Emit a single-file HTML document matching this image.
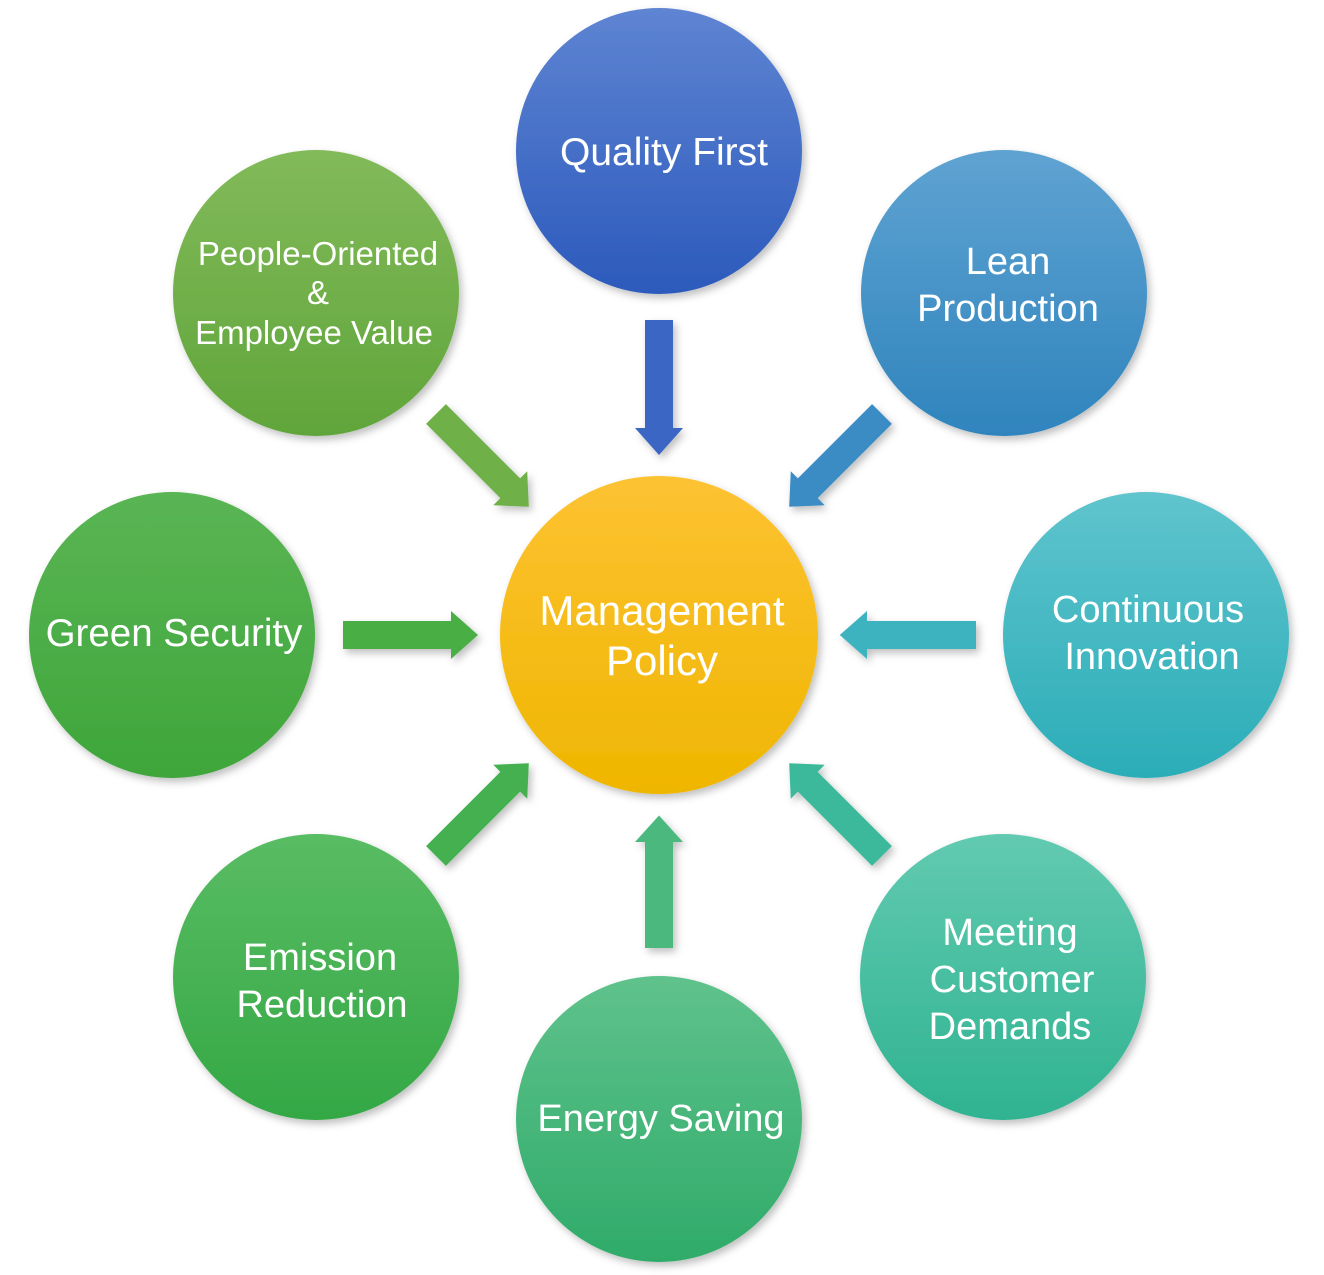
<!DOCTYPE html>
<html><head><meta charset="utf-8"><style>
html,body{margin:0;padding:0;background:#fff;}
svg{display:block;}
text{font-family:"Liberation Sans","DejaVu Sans",sans-serif;fill:#fff;text-anchor:middle;}
</style></head><body>
<svg width="1324" height="1275" viewBox="0 0 1324 1275" xmlns="http://www.w3.org/2000/svg">
<defs>
<linearGradient id="gQ" x1="0" y1="0" x2="0" y2="1"><stop offset="0" stop-color="#5e84d2"/><stop offset="1" stop-color="#2c5abc"/></linearGradient>
<linearGradient id="gL" x1="0" y1="0" x2="0" y2="1"><stop offset="0" stop-color="#5fa3d2"/><stop offset="1" stop-color="#2f84bd"/></linearGradient>
<linearGradient id="gC" x1="0" y1="0" x2="0" y2="1"><stop offset="0" stop-color="#5fc4cd"/><stop offset="1" stop-color="#2badb8"/></linearGradient>
<linearGradient id="gM" x1="0" y1="0" x2="0" y2="1"><stop offset="0" stop-color="#62cab1"/><stop offset="1" stop-color="#2fb391"/></linearGradient>
<linearGradient id="gE" x1="0" y1="0" x2="0" y2="1"><stop offset="0" stop-color="#5fc28c"/><stop offset="1" stop-color="#2fab69"/></linearGradient>
<linearGradient id="gR" x1="0" y1="0" x2="0" y2="1"><stop offset="0" stop-color="#59bc63"/><stop offset="1" stop-color="#34a845"/></linearGradient>
<linearGradient id="gG" x1="0" y1="0" x2="0" y2="1"><stop offset="0" stop-color="#5ab554"/><stop offset="1" stop-color="#3ea63a"/></linearGradient>
<linearGradient id="gP" x1="0" y1="0" x2="0" y2="1"><stop offset="0" stop-color="#82ba5a"/><stop offset="1" stop-color="#60a53a"/></linearGradient>
<linearGradient id="gY" x1="0" y1="0" x2="0" y2="1"><stop offset="0" stop-color="#fdc232"/><stop offset="1" stop-color="#efb600"/></linearGradient>
<filter id="sh" x="-10%" y="-10%" width="130%" height="130%"><feDropShadow dx="3" dy="4" stdDeviation="4" flood-color="#000" flood-opacity="0.25"/></filter>
<polygon id="arr" points="0,-14 100,-14 100,-24 125,0 100,24 100,14 0,14"/>
</defs>

<g filter="url(#sh)">
<use href="#arr" fill="#3a66c4" transform="translate(659,320) rotate(90) scale(1.08,1)"/>
<use href="#arr" fill="#3a8cc4" transform="translate(882,414) rotate(135) scale(1.05,1)"/>
<use href="#arr" fill="#3cb3c0" transform="translate(976,635) rotate(180) scale(1.09,1)"/>
<use href="#arr" fill="#3bb99a" transform="translate(882,856) rotate(225) scale(1.05,1)"/>
<use href="#arr" fill="#4bb97e" transform="translate(659,948) rotate(270) scale(1.06,1)"/>
<use href="#arr" fill="#44b050" transform="translate(436,856) rotate(315) scale(1.05,1)"/>
<use href="#arr" fill="#4aaf45" transform="translate(343,635) scale(1.08,1)"/>
<use href="#arr" fill="#70b04a" transform="translate(436,414) rotate(45) scale(1.05,1)"/>
</g>

<g filter="url(#sh)">
<circle cx="659" cy="151" r="143" fill="url(#gQ)"/>
<circle cx="1004" cy="293" r="143" fill="url(#gL)"/>
<circle cx="1146" cy="635" r="143" fill="url(#gC)"/>
<circle cx="1003" cy="977" r="143" fill="url(#gM)"/>
<circle cx="659" cy="1119" r="143" fill="url(#gE)"/>
<circle cx="316" cy="977" r="143" fill="url(#gR)"/>
<circle cx="172" cy="635" r="143" fill="url(#gG)"/>
<circle cx="316" cy="293" r="143" fill="url(#gP)"/>
<circle cx="659" cy="635" r="159" fill="url(#gY)"/>
</g>

<text x="664" y="165" font-size="39">Quality First</text>
<text x="1008" y="274" font-size="38">Lean</text>
<text x="1008" y="321" font-size="38">Production</text>
<text x="1148" y="622" font-size="38">Continuous</text>
<text x="1152" y="669" font-size="38">Innovation</text>
<text x="1010" y="945" font-size="38">Meeting</text>
<text x="1012" y="992" font-size="38">Customer</text>
<text x="1010" y="1039" font-size="38">Demands</text>
<text x="661" y="1131" font-size="38">Energy Saving</text>
<text x="320" y="970" font-size="38">Emission</text>
<text x="322" y="1017" font-size="38">Reduction</text>
<text x="174" y="646" font-size="38.5">Green Security</text>
<text x="318" y="265" font-size="33">People-Oriented</text>
<text x="318" y="304" font-size="33">&amp;</text>
<text x="314" y="344" font-size="33">Employee Value</text>
<text x="662" y="625" font-size="42">Management</text>
<text x="662" y="675" font-size="42">Policy</text>
</svg>
</body></html>
